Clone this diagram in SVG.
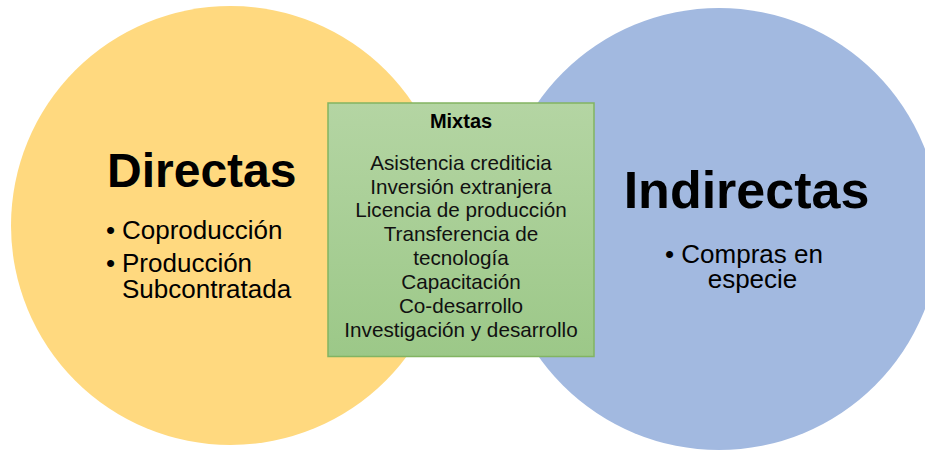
<svg xmlns="http://www.w3.org/2000/svg" width="925" height="451" viewBox="0 0 925 451">
<defs>
<linearGradient id="g" x1="0" y1="0" x2="0" y2="1">
<stop offset="0" stop-color="#b4d5a3"/>
<stop offset="1" stop-color="#9cc888"/>
</linearGradient>
<style>
text{font-family:"Liberation Sans",Arial,sans-serif;fill:#000}
.t{font-weight:bold}
.b{font-size:26px}
.m{font-size:20.7px;text-anchor:middle;fill:#111}
</style>
</defs>
<rect width="925" height="451" fill="#fff"/>
<g id="directas">
<circle cx="230.5" cy="225.5" r="219.5" fill="#ffd97f"/>
<text class="t" x="107" y="187" font-size="48">Directas</text>
<text class="b" x="106" y="239">•</text>
<text class="b" x="122" y="239">Coproducción</text>
<text class="b" x="106" y="272">•</text>
<text class="b" x="122" y="272">Producción</text>
<text class="b" x="122" y="298">Subcontratada</text>
</g>
<g id="indirectas">
<circle cx="719" cy="229" r="221" fill="#a2b9e0"/>
<text class="t" x="746.5" y="208" font-size="52" text-anchor="middle">Indirectas</text>
<text class="b" x="744" y="263" text-anchor="middle">• Compras en</text>
<text class="b" x="752.5" y="288" text-anchor="middle">especie</text>
</g>
<g id="mixtas">
<rect x="328" y="103" width="266" height="253.5" fill="url(#g)" stroke="#82b462" stroke-width="1.5"/>
<text class="t" x="461" y="128" font-size="20" text-anchor="middle">Mixtas</text>
<text class="m" x="461" y="170">Asistencia crediticia</text>
<text class="m" x="461" y="193.5">Inversión extranjera</text>
<text class="m" x="461" y="217">Licencia de producción</text>
<text class="m" x="461" y="241">Transferencia de</text>
<text class="m" x="461" y="264.5">tecnología</text>
<text class="m" x="461" y="289">Capacitación</text>
<text class="m" x="461" y="312.5">Co-desarrollo</text>
<text class="m" x="461" y="336.5">Investigación y desarrollo</text>
</g>
<g id="connectors"/>
</svg>
